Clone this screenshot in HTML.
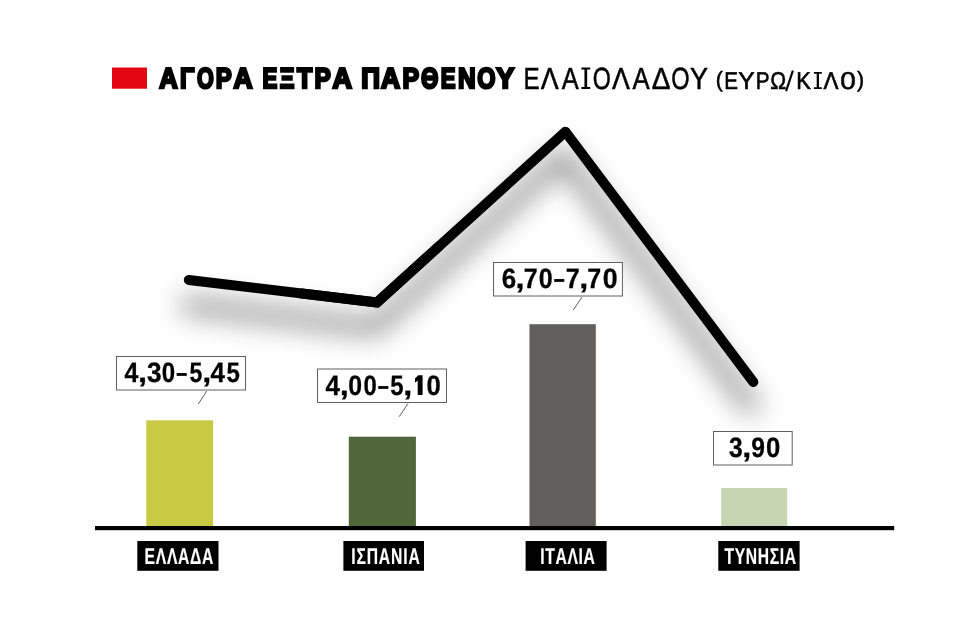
<!DOCTYPE html>
<html lang="el">
<head>
<meta charset="utf-8">
<title>ΑΓΟΡΑ ΕΞΤΡΑ ΠΑΡΘΕΝΟΥ ΕΛΑΙΟΛΑΔΟΥ</title>
<style>
html,body{margin:0;padding:0;background:#fff;}
body{width:960px;height:620px;overflow:hidden;font-family:"Liberation Sans",sans-serif;}
svg{display:block;}
text{font-family:"Liberation Sans",sans-serif;font-kerning:none;text-rendering:geometricPrecision;}
</style>
</head>
<body>
<svg width="960" height="620" viewBox="0 0 960 620" style="will-change:transform">
  <defs>
    <filter id="sh" x="-20%" y="-30%" width="140%" height="170%">
      <feGaussianBlur stdDeviation="14"/>
    </filter>
  </defs>
  <rect width="960" height="620" fill="#ffffff"/>
  <!-- shadow of the trend line -->
  <g filter="url(#sh)" opacity="0.52">
    <polyline points="188.8,280 377,302.5 565.4,131.7 753.3,382" transform="translate(-2,25)" fill="none" stroke="#000" stroke-width="14" stroke-linecap="round" stroke-linejoin="round"/>
  </g>
  <!-- title -->
  <rect x="112" y="67.5" width="35" height="21.2" fill="#e30613"/>
  <g font-size="28.78" font-weight="700" fill="#000" stroke="#000" stroke-width="2.5" stroke-linejoin="miter">
    <text transform="translate(159.22,87.95) scale(0.8873,1.0)">Α</text>
    <text transform="translate(180.04,87.95) scale(0.8271,1.0)">Γ</text>
    <text transform="translate(196.95,87.95) scale(0.7490,1.0)">Ο</text>
    <text transform="translate(215.69,87.95) scale(0.8330,1.0)">Ρ</text>
    <text transform="translate(233.59,87.95) scale(0.9171,1.0)">Α</text>
  </g>
  <g font-size="28.78" font-weight="700" fill="#000" stroke="#000" stroke-width="2.5" stroke-linejoin="miter">
    <text transform="translate(262.58,87.95) scale(0.7723,1.0)">Ε</text>
    <text transform="translate(279.66,87.95) scale(0.7925,1.0)">Ξ</text>
    <text transform="translate(297.10,87.95) scale(0.8639,1.0)">Τ</text>
    <text transform="translate(314.42,87.95) scale(0.8516,1.0)">Ρ</text>
    <text transform="translate(332.40,87.95) scale(0.9354,1.0)">Α</text>
  </g>
  <g font-size="28.78" font-weight="700" fill="#000" stroke="#000" stroke-width="2.5" stroke-linejoin="miter">
    <text transform="translate(361.29,87.95) scale(0.9012,1.0)">Π</text>
    <text transform="translate(381.09,87.95) scale(0.9171,1.0)">Α</text>
    <text transform="translate(402.51,87.95) scale(0.8676,1.0)">Ρ</text>
    <text transform="translate(420.95,87.95) scale(0.7779,1.0)">Θ</text>
    <text transform="translate(440.73,87.95) scale(0.7696,1.0)">Ε</text>
    <text transform="translate(457.93,87.95) scale(0.8497,1.0)">Ν</text>
    <text transform="translate(477.31,87.95) scale(0.8157,1.0)">Ο</text>
    <text transform="translate(496.31,87.95) scale(0.9354,1.0)">Υ</text>
  </g>
  <g font-size="30.7" font-weight="400" fill="#000" stroke="#000" stroke-width="0.5" stroke-linejoin="miter">
    <text transform="translate(523.46,88.8) scale(0.7877,1.0)">Ε</text>
    <text transform="translate(540.69,88.8) scale(0.8765,1.0)">Λ</text>
    <text transform="translate(561.86,88.8) scale(0.8295,1.0)">Α</text>
    <text transform="translate(592.84,88.8) scale(0.7574,1.0)">Ο</text>
    <text transform="translate(611.99,88.8) scale(0.8741,1.0)">Λ</text>
    <text transform="translate(632.41,88.8) scale(0.8391,1.0)">Α</text>
    <text transform="translate(651.64,88.8) scale(0.9132,1.0)">Δ</text>
    <text transform="translate(671.32,88.8) scale(0.7690,1.0)">Ο</text>
    <text transform="translate(689.88,88.8) scale(0.8789,1.0)">Υ</text>
  </g>
  <path d="M581.4,67.4H590.2V69.5H587.15V86.9H590.2V89.0H581.4V86.9H584.4499999999999V69.5H581.4Z" fill="#000"/>
  <line x1="792.9" y1="70.7" x2="786.1" y2="91.2" stroke="#000" stroke-width="2.1"/>
  <g font-size="24.3" font-weight="400" fill="#000" stroke="#000" stroke-width="0.6" stroke-linejoin="miter">
    <text transform="translate(724.17,88.85) scale(0.8460,1.0)">Ε</text>
    <text transform="translate(738.26,88.85) scale(1.0102,1.0)">Υ</text>
    <text transform="translate(755.81,88.85) scale(0.8498,1.0)">Ρ</text>
    <text transform="translate(770.36,88.85) scale(0.8748,1.0)">Ω</text>
    <text transform="translate(796.37,88.85) scale(0.9009,1.0)">Κ</text>
    <text transform="translate(823.57,88.85) scale(0.9250,1.0)">Λ</text>
    <text transform="translate(840.26,88.85) scale(1.1460,1.0)">0</text>
  </g>
  <g font-size="24.3" font-weight="400" fill="#000" stroke="#000" stroke-width="0.6" stroke-linejoin="miter">
    <text transform="translate(715.84,87.0) scale(0.8803,0.914)">(</text>
    <text transform="translate(857.04,87.0) scale(0.8803,0.914)">)</text>
  </g>
  <path d="M813.9,71.9H821.8V73.7H818.9999999999999V87.3H821.8V89.1H813.9V87.3H816.6999999999999V73.7H813.9Z" fill="#000"/>

  <!-- bars -->
  <rect x="146.3" y="420.3" width="66.8" height="106" fill="#c8ca44"/>
  <rect x="348.8" y="436.7" width="67.1" height="90" fill="#4f673a"/>
  <rect x="529.5" y="324.2" width="66.3" height="202.5" fill="#625f5e"/>
  <rect x="721.2" y="488" width="66" height="39" fill="#c5d4b1"/>

  <!-- axis -->
  <rect x="95" y="526" width="799.2" height="4.2" fill="#000"/>

  <!-- value boxes -->
  <g fill="#fff" stroke="#606060" stroke-width="1">
    <rect x="116.5" y="356.5" width="129" height="33.5"/>
    <rect x="317.5" y="369" width="129" height="33.5"/>
    <rect x="493.5" y="262.5" width="128.9" height="33.5"/>
    <rect x="713.5" y="431.5" width="78.7" height="33.5"/>
  </g>
  <g stroke="#333" stroke-width="0.8" fill="none">
    <line x1="206.7" y1="391" x2="198.3" y2="404"/>
    <line x1="408" y1="403.5" x2="399.2" y2="416.7"/>
    <line x1="582" y1="297" x2="573.3" y2="310"/>
  </g>
  <g font-size="28.1" font-weight="700" fill="#000" stroke="#000" stroke-width="0.3" stroke-linejoin="miter">
    <text transform="translate(124.46,381.7) scale(0.8859,1.0)">4</text>
    <text transform="translate(137.97,381.7) scale(1.1574,1.0)">,</text>
    <text transform="translate(147.04,381.7) scale(0.9322,1.0)">3</text>
    <text transform="translate(161.68,381.7) scale(0.8563,1.0)">0</text>
    <text transform="translate(176.21,381.7) scale(0.7036,1.0)">–</text>
    <text transform="translate(189.41,381.7) scale(0.8192,1.0)">5</text>
    <text transform="translate(202.17,381.7) scale(1.1574,1.0)">,</text>
    <text transform="translate(210.55,381.7) scale(0.9250,1.0)">4</text>
    <text transform="translate(226.39,381.7) scale(0.8543,1.0)">5</text>
  </g>
  <g font-size="28.1" font-weight="700" fill="#000" stroke="#000" stroke-width="0.3" stroke-linejoin="miter">
    <text transform="translate(325.55,394.7) scale(0.9250,1.0)">4</text>
    <text transform="translate(339.67,394.7) scale(1.1574,1.0)">,</text>
    <text transform="translate(348.35,394.7) scale(0.8855,1.0)">0</text>
    <text transform="translate(363.38,394.7) scale(0.8489,1.0)">0</text>
    <text transform="translate(377.81,394.7) scale(0.7036,1.0)">–</text>
    <text transform="translate(390.19,394.7) scale(0.8543,1.0)">5</text>
    <text transform="translate(403.27,394.7) scale(1.1574,1.0)">,</text>
    <text transform="translate(426.62,394.7) scale(0.9148,1.0)">0</text>
  </g>
  <path d="M418.30000000000007,375.2H422.6V395.0H417.70000000000005V380.4L415,382.8V378.4Z" fill="#000"/>
  <g font-size="28.1" font-weight="700" fill="#000" stroke="#000" stroke-width="0.3" stroke-linejoin="miter">
    <text transform="translate(501.69,288.2) scale(0.9220,1.0)">6</text>
    <text transform="translate(515.47,288.2) scale(1.1574,1.0)">,</text>
    <text transform="translate(523.76,288.2) scale(0.8898,1.0)">7</text>
    <text transform="translate(538.64,288.2) scale(0.8929,1.0)">0</text>
    <text transform="translate(553.71,288.2) scale(0.7036,1.0)">–</text>
    <text transform="translate(565.76,288.2) scale(0.8898,1.0)">7</text>
    <text transform="translate(579.17,288.2) scale(1.1574,1.0)">,</text>
    <text transform="translate(587.36,288.2) scale(0.8898,1.0)">7</text>
    <text transform="translate(602.79,288.2) scale(0.9514,1.0)">0</text>
  </g>
  <g font-size="28.1" font-weight="700" fill="#000" stroke="#000" stroke-width="0.3" stroke-linejoin="miter">
    <text transform="translate(729.07,457.2) scale(0.8761,1.0)">3</text>
    <text transform="translate(742.17,457.2) scale(1.1574,1.0)">,</text>
    <text transform="translate(751.28,457.2) scale(0.8770,1.0)">9</text>
    <text transform="translate(766.12,457.2) scale(0.9148,1.0)">0</text>
  </g>

  <!-- trend line -->
  <polyline points="188.8,280 377,302.5 565.4,131.7 753.3,382" fill="none" stroke="#000" stroke-width="10" stroke-linecap="round" stroke-linejoin="round"/>
  <polyline points="300,293.29 377,302.5 440,245.38" fill="none" stroke="#000" stroke-width="10" stroke-linecap="butt" stroke-linejoin="miter"/>

  <!-- country labels -->
  <g fill="#000">
    <rect x="137.3" y="541" width="81.2" height="29.8"/>
    <rect x="343.4" y="541" width="80.6" height="29.8"/>
    <rect x="525.6" y="541" width="81" height="29.8"/>
    <rect x="718.3" y="541" width="81.3" height="29.8"/>
  </g>
  <text transform="translate(144.62,563.9) scale(0.685,1.0)" font-size="22.9" font-weight="700" fill="#fff" stroke="#fff" stroke-width="0.2" stroke-linejoin="miter" letter-spacing="0.995">ΕΛΛΑΔΑ</text>
  <text transform="translate(351.22,563.9) scale(0.685,1.0)" font-size="22.9" font-weight="700" fill="#fff" stroke="#fff" stroke-width="0.2" stroke-linejoin="miter" letter-spacing="1.237">ΙΣΠΑΝΙΑ</text>
  <text transform="translate(540.32,563.9) scale(0.685,1.0)" font-size="22.9" font-weight="700" fill="#fff" stroke="#fff" stroke-width="0.2" stroke-linejoin="miter" letter-spacing="0.878">ΙΤΑΛΙΑ</text>
  <text transform="translate(724.49,563.9) scale(0.685,1.0)" font-size="22.9" font-weight="700" fill="#fff" stroke="#fff" stroke-width="0.2" stroke-linejoin="miter" letter-spacing="0.937">ΤΥΝΗΣΙΑ</text>
</svg>
</body>
</html>
